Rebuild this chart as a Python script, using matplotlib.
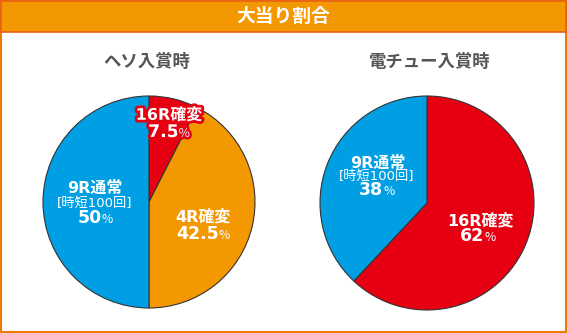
import matplotlib
matplotlib.use("Agg")
import matplotlib.pyplot as plt
from matplotlib.patches import Rectangle
from matplotlib.offsetbox import TextArea, HPacker, AnnotationBbox
import matplotlib.patheffects as pe

plt.rcParams['font.family'] = ['Noto Sans CJK JP', 'DejaVu Sans']
LAT = ['DejaVu Sans', 'Noto Sans CJK JP']

W, H = 567, 333
title = "大当り割合"
subtitles = ["ヘソ入賞時", "電チュー入賞時"]

left_labels = ["16R確変", "4R確変", "9R通常"]
left_values = [7.5, 42.5, 50]
left_colors = ["#E60012", "#F39800", "#009FE3"]

right_labels = ["16R確変", "9R通常"]
right_values = [62, 38]
right_colors = ["#E60012", "#009FE3"]

note = "[時短100回]"

fig = plt.figure(figsize=(W / 100, H / 100), dpi=100)
bg = fig.add_axes([0, 0, 1, 1])
bg.set_xlim(0, W)
bg.set_ylim(H, 0)
bg.axis('off')

# frame and header
bg.add_patch(Rectangle((1, 1), W - 2, H - 2, facecolor='white', edgecolor='#EE7A00', lw=1.5))
bg.add_patch(Rectangle((1, 1), W - 2, 31, facecolor='#F39800', edgecolor='#E8601A', lw=1.2))
bg.text(W / 2, 16.5, title, ha='center', va='center', color='white', fontsize=13.5, fontweight='bold')

bg.text(147, 62, subtitles[0], ha='center', va='center', color='#555555', fontsize=12.5, fontweight='bold')
bg.text(430, 62, subtitles[1], ha='center', va='center', color='#555555', fontsize=12.5, fontweight='bold')


def pie_axes(cx, cy, r):
    ax = fig.add_axes([(cx - r) / W, 1 - (cy + r) / H, 2 * r / W, 2 * r / H])
    return ax


axL = pie_axes(149, 202, 106)
axL.pie(left_values, colors=left_colors, startangle=90, counterclock=False,
        wedgeprops=dict(edgecolor='#333333', linewidth=0.8))
axL.set_xlim(-1.0, 1.0)
axL.set_ylim(-1.0, 1.0)
axL.set_aspect('equal')

axR = pie_axes(427, 203, 107)
axR.pie(right_values, colors=right_colors, startangle=90, counterclock=False,
        wedgeprops=dict(edgecolor='#333333', linewidth=0.8))
axR.set_xlim(-1.0, 1.0)
axR.set_ylim(-1.0, 1.0)
axR.set_aspect('equal')

# overlay for labels
ov = fig.add_axes([0, 0, 1, 1])
ov.set_xlim(0, W)
ov.set_ylim(H, 0)
ov.axis('off')
ov.patch.set_alpha(0)


def label(x, y, s, size=11.5, outline=None):
    kw = dict(ha='center', va='center', color='white', fontsize=size, fontweight='bold', family=LAT)
    if outline:
        kw['path_effects'] = [pe.withStroke(linewidth=4, foreground=outline)]
    ov.text(x, y, s, **kw)


def pct(x, y, v, size=12.5, outline=None):
    tp = dict(color='white', fontsize=size, fontweight='bold', family=LAT)
    tp2 = dict(color='white', fontsize=size * 0.7, family=['Noto Sans CJK JP'])
    if outline:
        tp['path_effects'] = [pe.withStroke(linewidth=4, foreground=outline)]
        tp2['path_effects'] = [pe.withStroke(linewidth=3.5, foreground=outline)]
    a = TextArea(f"{v:g}", textprops=tp)
    b = TextArea("%", textprops=tp2)
    box = HPacker(children=[a, b], align='baseline', pad=0, sep=0)
    ab = AnnotationBbox(box, (x, y), xycoords='data', frameon=False, box_alignment=(0.5, 0.5), pad=0)
    ov.add_artist(ab)


def noteText(x, y):
    ov.text(x, y, note, ha='center', va='center', color='white', fontsize=9.5, family=LAT)


# left pie labels
label(169, 115, left_labels[0], outline='#E60012')
pct(169, 132, left_values[0], outline='#E60012')
label(203, 217, left_labels[1])
pct(203, 234, left_values[1])
label(95, 188, left_labels[2])
noteText(95, 203)
pct(95, 218, left_values[2])

# right pie labels
label(378, 163, right_labels[1])
noteText(377, 176)
pct(377, 190, right_values[1])
label(480, 221, right_labels[0])
pct(478, 236, right_values[0])

fig.savefig("out.png", dpi=100)
